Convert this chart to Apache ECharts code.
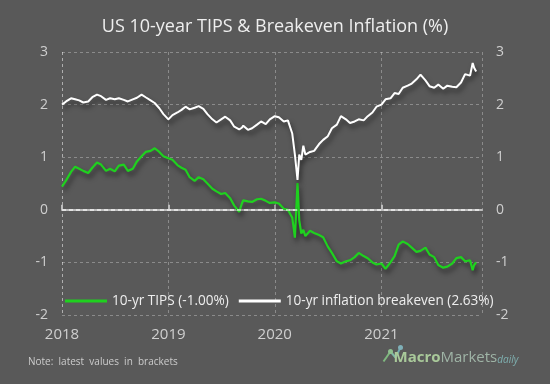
<!DOCTYPE html>
<html><head><meta charset="utf-8">
<script src="https://cdn.jsdelivr.net/npm/echarts@6/dist/echarts.min.js"></script>
<style>html,body{margin:0;padding:0;background:#595959}#c{width:550px;height:384px}</style>
</head><body><div id="c"></div>
<script>
const dates = [
'2018-01-01','2018-01-15','2018-02-01','2018-02-15','2018-03-01','2018-03-15','2018-04-01','2018-04-15','2018-05-01','2018-05-15','2018-06-01','2018-06-15','2018-07-01','2018-07-15','2018-08-01','2018-08-15','2018-09-01','2018-09-15','2018-10-01','2018-10-15','2018-11-01','2018-11-15','2018-12-01','2018-12-15',
'2019-01-01','2019-01-15','2019-02-01','2019-02-15','2019-03-01','2019-03-15','2019-04-01','2019-04-15','2019-05-01','2019-05-15','2019-06-01','2019-06-15','2019-07-01','2019-07-15','2019-08-01','2019-08-15','2019-09-01','2019-09-10','2019-09-15','2019-10-01','2019-10-15','2019-11-01','2019-11-15','2019-12-01','2019-12-15',
'2020-01-01','2020-01-15','2020-02-01','2020-02-15','2020-03-01','2020-03-10','2020-03-19','2020-03-25','2020-04-01','2020-04-08','2020-04-15','2020-05-01','2020-05-15','2020-06-01','2020-06-15','2020-07-01','2020-07-15','2020-08-01','2020-08-15','2020-09-01','2020-09-15','2020-10-01','2020-10-15','2020-11-01','2020-11-15','2020-12-01','2020-12-15',
'2021-01-01','2021-01-15','2021-02-01','2021-02-15','2021-03-01','2021-03-15','2021-04-01','2021-04-15','2021-05-01','2021-05-15','2021-06-01','2021-06-15','2021-07-01','2021-07-15','2021-08-01','2021-08-15','2021-09-01','2021-09-15','2021-10-01','2021-10-15','2021-11-01','2021-11-10','2021-11-15','2021-11-22'
];
const tips = [
0.44,0.56,0.72,0.82,0.78,0.74,0.70,0.80,0.90,0.86,0.74,0.78,0.73,0.84,0.86,0.74,0.78,0.92,1.02,1.10,1.12,1.17,1.10,1.02,
0.98,0.95,0.85,0.80,0.76,0.62,0.55,0.62,0.58,0.50,0.40,0.35,0.30,0.32,0.22,0.08,-0.04,0.12,0.18,0.16,0.15,0.20,0.21,0.17,0.13,
0.14,0.12,0.02,0.00,-0.15,-0.53,0.51,-0.20,-0.45,-0.38,-0.50,-0.40,-0.44,-0.48,-0.52,-0.70,-0.82,-0.98,-1.02,-0.98,-0.96,-0.90,-0.82,-0.88,-0.92,-1.00,-1.04,
-1.02,-1.12,-1.00,-0.88,-0.66,-0.60,-0.65,-0.72,-0.80,-0.78,-0.72,-0.85,-0.90,-1.05,-1.10,-1.08,-1.02,-0.92,-0.90,-0.98,-0.96,-1.15,-1.05,-1.00
];
const breakeven = [
2.00,2.06,2.12,2.10,2.08,2.04,2.06,2.14,2.19,2.16,2.09,2.12,2.10,2.12,2.09,2.06,2.10,2.13,2.19,2.14,2.08,2.03,1.93,1.82,
1.72,1.80,1.85,1.90,1.96,1.91,1.94,1.97,1.92,1.82,1.72,1.66,1.72,1.77,1.70,1.58,1.53,1.56,1.60,1.52,1.55,1.62,1.68,1.63,1.72,
1.78,1.76,1.68,1.70,1.45,1.05,0.57,1.05,0.95,1.22,1.05,1.10,1.12,1.25,1.33,1.40,1.55,1.62,1.78,1.72,1.65,1.68,1.72,1.70,1.78,1.85,1.96,
2.00,2.10,2.12,2.22,2.20,2.32,2.36,2.40,2.48,2.57,2.46,2.35,2.32,2.38,2.30,2.36,2.34,2.33,2.42,2.58,2.55,2.79,2.70,2.63
];
const seriesNames = ['10-yr TIPS (-1.00%)', '10-yr inflation breakeven (2.63%)'];
const yTicks = [-2,-1,0,1,2,3];
const titleText = 'US 10-year TIPS & Breakeven Inflation (%)';
const noteText = 'Note:  latest  values  in  brackets';

const chart = echarts.init(document.getElementById('c'));
const FONT = 'Open Sans';
const shadow = {shadowColor:'rgba(0,0,0,0.55)', shadowBlur:5, shadowOffsetX:2, shadowOffsetY:4};
const yAxisBase = {
  type:'value', min:yTicks[0], max:yTicks[yTicks.length-1], interval:1,
  axisLine:{show:false}, axisTick:{show:false},
  axisLabel:{color:'#cfcfcf', fontSize:14, fontFamily:FONT, margin:14},
  splitLine:{show:true, lineStyle:{color:'rgba(255,255,255,0.3)', type:[3,3], width:1}}
};
chart.setOption({
  backgroundColor:'#595959',
  animation:false,
  title:{text:titleText, left:'center', top:13, textStyle:{color:'#eeeeee', fontSize:18, fontWeight:'normal', fontFamily:FONT}},
  grid:{left:62, right:68, top:52, bottom:69},
  legend:{
    left:60, top:289, itemWidth:42, itemHeight:3, itemGap:10, icon:'rect',
    textStyle:{color:'#eeeeee', fontSize:13.6, fontFamily:FONT},
    data:seriesNames
  },
  xAxis:{
    type:'time', min:'2018-01-01', max:'2021-12-12',
    minInterval:365*24*3600*1000, maxInterval:366*24*3600*1000,
    axisLine:{show:true, lineStyle:{color:'#bdbdbd', width:2}},
    axisTick:{show:true, inside:true, length:5, lineStyle:{color:'#bdbdbd', width:2}},
    axisLabel:{color:'#cfcfcf', fontSize:15, fontFamily:FONT, formatter:'{yyyy}', showMaxLabel:false, margin:12},
    splitLine:{show:true, lineStyle:{color:'rgba(255,255,255,0.3)', type:[3,3], width:1}}
  },
  yAxis:[
    Object.assign({}, yAxisBase, {position:'left'}),
    Object.assign({}, yAxisBase, {position:'right', splitLine:{show:false}})
  ],
  series:[
    {name:seriesNames[0], type:'line', showSymbol:false, data:dates.map((d,i)=>[d,tips[i]]),
     itemStyle:{color:'#1fd11f'}, lineStyle:Object.assign({color:'#1fd11f', width:2.2}, shadow), z:3,
     markLine:{silent:true, symbol:'none', label:{show:false}, lineStyle:{color:'rgba(255,255,255,0.75)', type:[4,3], width:1.5, shadowBlur:0}, data:[{yAxis:0}]}},
    {name:seriesNames[1], type:'line', showSymbol:false, data:dates.map((d,i)=>[d,breakeven[i]]),
     itemStyle:{color:'#ffffff'}, lineStyle:Object.assign({color:'#ffffff', width:2}, shadow), z:4}
  ],
  graphic:[
    {type:'text', left:28, top:357, style:{text:noteText, fill:'#cccccc', fontSize:10, fontFamily:FONT}},
    {type:'group', left:381, top:345, children:[
      {type:'line', shape:{x1:2, y1:17, x2:9, y2:7}, style:{stroke:'#7fb87f', lineWidth:2}},
      {type:'line', shape:{x1:9, y1:7, x2:14, y2:13}, style:{stroke:'#7fb8a8', lineWidth:2}},
      {type:'line', shape:{x1:14, y1:13, x2:19, y2:3}, style:{stroke:'#6fa8b0', lineWidth:2}},
      {type:'circle', shape:{cx:9, cy:7, r:2.5}, style:{fill:'#8fc08f'}},
      {type:'circle', shape:{cx:19, cy:3, r:2.5}, style:{fill:'#7fb0b8'}},
      {type:'text', x:12, y:6, style:{text:'{a|Macro}{b|Markets}{c|daily}', rich:{
        a:{fill:'#a9c99a', fontSize:15, fontWeight:'bold', fontFamily:FONT},
        b:{fill:'#9fb4a6', fontSize:15, fontFamily:FONT},
        c:{fill:'#7fb0b0', fontSize:10, fontStyle:'italic', fontFamily:FONT, padding:[4,0,0,0]}
      }}}
    ]}
  ]
});
</script></body></html>
